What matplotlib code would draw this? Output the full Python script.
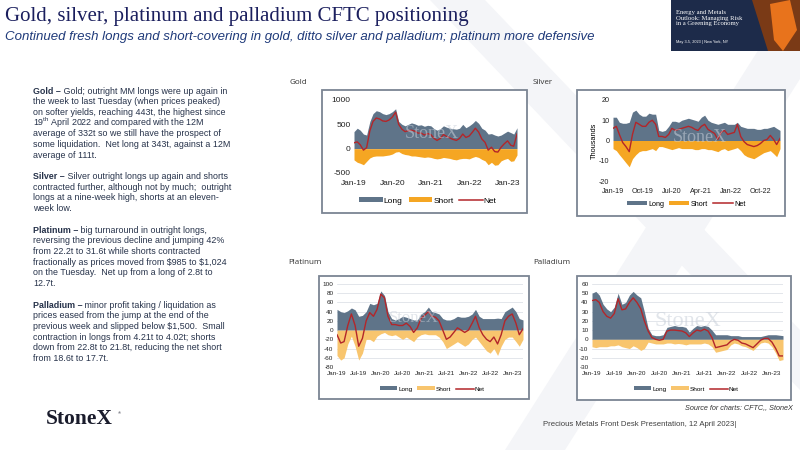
"""
CFTC positioning slide: gold, silver, platinum and palladium (MM long / short / net).
Values read by eye from the monthly-sampled charts, Jan-19 to Apr-23.
"""

import matplotlib
matplotlib.use("Agg")
import matplotlib.pyplot as plt
from matplotlib.patches import Rectangle, Polygon, Patch
from matplotlib.lines import Line2D
import matplotlib.dates as mdates
import pandas as pd

plt.rcParams["font.family"] = ["Liberation Sans", "DejaVu Sans"]
plt.rcParams["mathtext.fontset"] = "custom"
plt.rcParams["mathtext.rm"] = "Liberation Sans"
plt.rcParams["axes.unicode_minus"] = False

W, H = 800, 450

# ------------------------------------------------------------------
# Data (tonnes / thousand contracts), one value per month
# ------------------------------------------------------------------
months = pd.date_range("2019-01-01", periods=52, freq="MS")

gold_long = [350, 420, 380, 300, 280, 560, 720, 780, 760, 720, 700, 720,
             760, 820, 560, 500, 470, 500, 530, 510, 480, 490, 460, 480,
             470, 410, 380, 410, 470, 440, 420, 410, 400, 420, 500, 430,
             470, 520, 580, 520, 420, 380, 300, 310, 280, 260, 280, 320,
             360, 330, 300, 430]
gold_short = [-230, -280, -300, -330, -260, -190, -160, -150, -150, -150, -140, -130,
              -110, -70, -60, -100, -120, -130, -150, -150, -160, -170, -180, -170,
              -180, -200, -210, -200, -180, -190, -200, -220, -230, -210, -200, -200,
              -210, -180, -160, -180, -220, -250, -330, -280, -340, -330, -250, -220,
              -200, -260, -250, -130]
gold_net = [120, 140, 80, -30, 20, 370, 560, 630, 610, 570, 560, 590,
            650, 750, 500, 400, 350, 370, 380, 360, 320, 320, 280, 310,
            290, 210, 170, 210, 290, 250, 220, 190, 170, 210, 300, 230,
            260, 340, 420, 340, 200, 130, -30, 30, -60, -70, 30, 100,
            160, 70, 50, 300]

silver_long = [11.5, 11.5, 9, 8.5, 8.5, 9, 14, 15, 13, 12, 12, 13.5,
               13, 13, 5, 4.5, 5, 7, 9.5, 9.5, 9, 10, 10.5, 11,
               10.5, 10, 9.5, 11.5, 12.5, 10, 9, 8.5, 8, 8.5, 9, 8,
               8, 8, 9, 7, 6.5, 6, 6, 6, 5.5, 5.5, 6, 6,
               6.5, 7, 6, 5]
silver_short = [-4, -5, -7, -9, -11, -13, -9, -7, -5.5, -5, -5, -4.5,
                -4, -5, -3, -3, -3.5, -4, -4.5, -4, -3.5, -4, -4, -4,
                -4, -4.5, -4.5, -4, -4, -4.5, -4.5, -5, -5.5, -4.5, -4, -5,
                -4.5, -4, -3.5, -5, -7, -8, -8.5, -9, -8, -7, -6, -5.5,
                -5, -6.5, -8, -4]
silver_net = [6, 7, 3, -1, -3, -5.5, 3, 9, 8, 7, 7, 9,
              10, 8, 2, 2, 1.5, 3, 6, 5, 5.5, 6, 6.5, 7,
              6.5, 5.5, 5, 7, 8, 5.5, 4.5, 3.5, 0.5, 4, 5, 3,
              3.5, 4, 8, 2, -0.5, -2, -2.5, -3, -2.5, -1.5, 0, 0.5,
              2.5, 0.5, -2, 1]

plat_long = [45, 40, 38, 42, 48, 44, 30, 32, 40, 58, 55, 58,
             85, 75, 40, 25, 22, 25, 30, 28, 25, 22, 22, 35,
             40, 50, 40, 38, 35, 25, 22, 22, 25, 30, 28, 28,
             30, 35, 45, 30, 25, 25, 25, 25, 26, 25, 40, 45,
             50, 40, 25, 22]
plat_short = [-55, -65, -60, -30, -13, -35, -65, -50, -20, -20, -25, -13,
              -8, -5, -10, -12, -10, -15, -20, -15, -20, -25, -15, -10,
              -8, -10, -10, -10, -15, -25, -40, -35, -30, -25, -30, -35,
              -30, -20, -15, -25, -35, -45, -50, -40, -55, -35, -20, -15,
              -15, -25, -35, -20]
plat_net = [-10, -28, -25, 10, 35, 10, -35, -18, 20, 38, 30, 45,
            78, 70, 30, 12, 12, 10, 10, 15, 8, -5, 5, 25,
            32, 40, 30, 28, 20, 0, -20, -15, -5, 5, 0, -5,
            0, 15, 30, 5, -10, -20, -25, -15, -30, -10, 20, 30,
            35, 15, -10, 3]

pall_long = [50, 52, 48, 38, 33, 30, 35, 50, 38, 40, 48, 52,
             48, 45, 30, 12, 5, 4, 4, 5, 13, 14, 15, 14,
             14, 13, 8, 12, 15, 14, 15, 14, 10, 5, 5, 5,
             5, 4, 4, 4, 3, 3, 3, 3, 3, 3, 4, 5,
             5, 5, 4.5, 4]
pall_short = [-8, -9, -8, -8, -8, -7, -7, -6, -8, -9, -10, -7,
              -9, -12, -10, -3, -4, -5, -5, -5, -4, -4, -5, -4.5,
              -5, -6, -5, -5, -5, -5, -4, -5, -8, -14, -13, -12,
              -11, -6, -4, -5, -7, -8, -10, -12, -8, -4, -3, -4,
              -8, -15, -23, -22]
pall_net = [42, 43, 40, 30, 25, 23, 28, 44, 32, 33, 40, 45,
            40, 33, 20, 9, 2, 0, -1, 0, 9, 10, 10, 9.5,
            9, 7, 3, 7, 10, 9, 11, 9, 2, -9, -8, -7,
            -6, -2, 0, -1, -4, -5, -7, -9, -5, -1, 1, 1,
            -3, -10, -18, -18]

title = "Gold, silver, platinum and palladium CFTC positioning"
subtitle = ("Continued fresh longs and short-covering in gold, ditto silver and "
            "palladium; platinum more defensive")

paragraphs = [
    ("Gold \u2013",
     [" Gold; outright MM longs were up again in",
      "the week to last Tuesday (when prices peaked)",
      "on softer yields, reaching 443t, the highest since",
      r"19$^{\rm th}$ April 2022 and compared with the 12M",
      "average of 332t so we still have the prospect of",
      "some liquidation.  Net long at 343t, against a 12M",
      "average of 111t."]),
    ("Silver \u2013",
     [" Silver outright longs up again and shorts",
      "contracted further, although not by much;  outright",
      "longs at a nine-week high, shorts at an eleven-",
      "week low."]),
    ("Platinum \u2013",
     [" big turnaround in outright longs,",
      "reversing the previous decline and jumping 42%",
      "from 22.2t to 31.6t while shorts contracted",
      r"fractionally as prices moved from \$985 to \$1,024",
      "on the Tuesday.  Net up from a long of 2.8t to",
      "12.7t."]),
    ("Palladium \u2013",
     [" minor profit taking / liquidation as",
      "prices eased from the jump at the end of the",
      r"previous week and slipped below \$1,500.  Small",
      "contraction in longs from 4.21t to 4.02t; shorts",
      "down from 22.8t to 21.8t, reducing the net short",
      "from 18.6t to 17.7t."]),
]

LONG_C = "#5f7489"
SHORT_DARK = "#f5a623"
SHORT_LIGHT = "#f8c56e"
NET_C = "#b3262a"
TEXT_C = "#26324a"
FRAME_C = "#7b8593"


def add_axes_px(fig, x0, y0, x1, y1):
    return fig.add_axes([x0 / W, 1 - y1 / H, (x1 - x0) / W, (y1 - y0) / H])


def draw_chart(fig, box, long, short, net, ylim, yticks, xticks, short_c,
               grid, fs, xpad, legend_xy, mark_xy, mark_fs):
    ax = add_axes_px(fig, *box)
    ax.set_facecolor("none")
    ax.fill_between(months, 0, long, color=LONG_C, lw=0, zorder=2)
    ax.fill_between(months, 0, short, color=short_c, lw=0, zorder=2)
    ax.plot(months, net, color=NET_C, lw=1.0, zorder=3)
    ax.set_xlim(months[0], months[-1])
    ax.set_ylim(*ylim)
    ax.set_yticks(yticks)
    ax.set_xticks(xticks)
    ax.xaxis.set_major_formatter(mdates.DateFormatter("%b-%y"))
    for s in ax.spines.values():
        s.set_visible(False)
    ax.tick_params(length=0, labelsize=fs, pad=2.5, colors="#222222")
    ax.tick_params(axis="x", pad=xpad)
    if grid:
        ax.grid(axis="y", color="#d8dce3", lw=0.5, zorder=0)
        ax.set_axisbelow(True)
    # faint StoneX watermark over the plot
    fig.text(mark_xy[0] / W, 1 - mark_xy[1] / H, "StoneX", family="Liberation Serif",
             fontsize=mark_fs, color="#c9d0da", alpha=0.55, ha="center", va="center",
             zorder=10)
    handles = [Patch(facecolor=LONG_C, lw=0), Patch(facecolor=short_c, lw=0),
               Line2D([], [], color=NET_C, lw=1.1)]
    fig.legend(handles, ["Long", "Short", "Net"], loc="center", ncol=3,
               bbox_to_anchor=(legend_xy[0] / W, 1 - legend_xy[1] / H),
               bbox_transform=fig.transFigure, frameon=False, fontsize=fs,
               handlelength=2.8, handleheight=0.55, handletextpad=0.15,
               columnspacing=0.7)
    return ax


fig = plt.figure(figsize=(W / 100, H / 100), dpi=100)
bg = fig.add_axes([0, 0, 1, 1])
bg.set_xlim(0, W)
bg.set_ylim(H, 0)
bg.axis("off")

# faint background X
bg.add_patch(Polygon([(430, 0), (485, 0), (800, 330), (800, 390)],
                     closed=True, color="#f4f5f8", lw=0, zorder=0))
bg.add_patch(Polygon([(790, 0), (850, 0), (565, 450), (505, 450)],
                     closed=True, color="#f4f5f8", lw=0, zorder=0))

# title block
bg.text(5, 16, title, family="Liberation Serif", fontsize=15.0, color="#1b1f5e",
        va="center", ha="left")
bg.text(5, 37, subtitle, style="italic", fontsize=9.5, color="#1f3a7a",
        va="center", ha="left")

# conference banner, top right
bg.add_patch(Rectangle((671, 0), 129, 51, color="#1d2b4a", lw=0, zorder=1))
bg.add_patch(Polygon([(752, 0), (800, 0), (800, 51), (768, 51)], closed=True,
                     color="#7a3a16", lw=0, zorder=1))
bg.add_patch(Polygon([(770, 4), (790, 0), (797, 30), (783, 51), (774, 40)],
                     closed=True, color="#e8731c", lw=0, zorder=1))
bg.text(676, 10, "Energy and Metals\nOutlook: Managing Risk\nin a Greening Economy",
        family="Liberation Serif", fontsize=4.8, color="white", va="top",
        ha="left", linespacing=1.15, zorder=2)
bg.text(676, 42, "May 3-5, 2023 | New York, NY", fontsize=2.8, color="white",
        va="center", ha="left", zorder=2)

# commentary column: one blank line between paragraphs
line_h = 10.7
y = 91
for head, lines in paragraphs:
    t = bg.text(33, y, head, fontsize=6.4, weight="bold", color=TEXT_C,
                va="center", ha="left")
    bg.annotate(lines[0], xy=(1, 0), xycoords=t, va="bottom", ha="left",
                fontsize=6.4, color=TEXT_C)
    for i, ln in enumerate(lines[1:], start=1):
        bg.text(33, y + i * line_h, ln, fontsize=6.4, color=TEXT_C,
                va="center", ha="left")
    y += (len(lines) + 1) * line_h

# chart frames and labels
for (x0, y0, x1, y1) in [(322, 90, 527, 213), (577, 90, 785, 216),
                         (319, 276, 529, 399), (577, 276, 791, 400)]:
    bg.add_patch(Rectangle((x0, y0), x1 - x0, y1 - y0, facecolor="white",
                           edgecolor=FRAME_C, lw=1.3, zorder=3))
for x, y, name in [(289, 83, "Gold"), (533, 83, "Silver"),
                   (288, 262, "Platinum"), (533, 262, "Palladium")]:
    bg.text(x, y, name, fontsize=5.8, color="#333333", va="center", ha="left",
            family="Open Sans")

draw_chart(fig, (354, 100, 517, 173), gold_long, gold_short, gold_net,
           (-500, 1000), [-500, 0, 500, 1000], months[::12], SHORT_DARK,
           False, 6.0, 5, (428, 201), (432, 134), 13)
ax_s = draw_chart(fig, (613, 100, 780, 181), silver_long, silver_short, silver_net,
                  (-20, 20), [-20, -10, 0, 10, 20], months[::9], SHORT_DARK,
                  False, 5.2, 5, (686, 204), (700, 138), 13)
ax_s.set_ylabel("Thousands", fontsize=5.3, labelpad=1)
draw_chart(fig, (337, 284, 523, 367), plat_long, plat_short, plat_net,
           (-80, 100), list(range(-80, 101, 20)), months[::6], SHORT_LIGHT,
           True, 4.6, 3, (432, 389), (414, 318), 12)
draw_chart(fig, (592, 284, 783, 367), pall_long, pall_short, pall_net,
           (-30, 60), list(range(-30, 61, 10)), months[::6], SHORT_LIGHT,
           True, 4.6, 3, (686, 389), (688, 322), 16)

# footer
bg.text(793, 408, "Source for charts: CFTC,, StoneX", style="italic", fontsize=5.2,
        color="#333333", ha="right", va="center")
bg.text(543, 424, "Precious Metals Front Desk Presentation, 12 April 2023|",
        fontsize=5.6, color="#404040", ha="left", va="center")
bg.text(46, 419, "StoneX", family="Liberation Serif", fontsize=15.5, weight="bold",
        color="#1a1c2c", ha="left", va="center")
bg.text(118, 413, "\u00ae", fontsize=3, color="#1a1c2c", ha="left", va="center")

fig.savefig("out.png", dpi=100)
